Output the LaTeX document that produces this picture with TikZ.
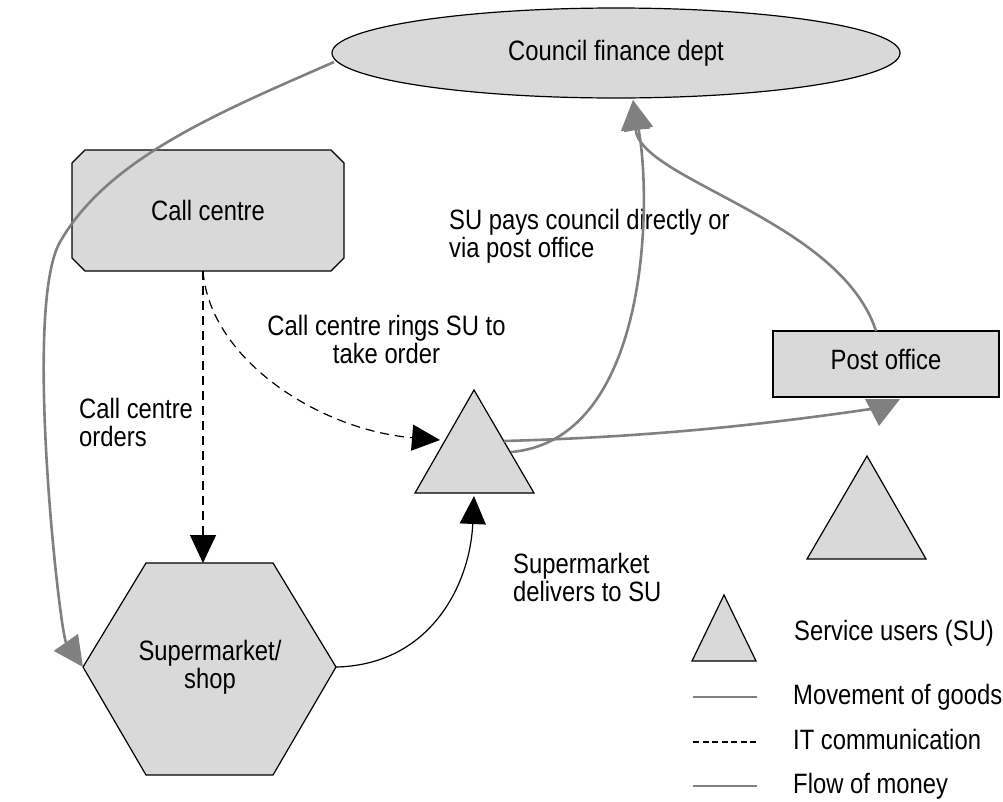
\documentclass[tikz,border=0pt]{standalone}
\usepackage{fontspec}
\setmainfont{Liberation Sans}[FakeStretch=0.85]
\usetikzlibrary{arrows.meta,shapes.geometric}
\definecolor{boxfill}{RGB}{217,217,217}
\definecolor{moneygrey}{RGB}{128,128,128}
\begin{document}
\begin{tikzpicture}[x=1pt,y=-1pt,
  every node/.style={font=\fontsize{28}{28}\selectfont, inner sep=0pt},
  shapebox/.style={draw=black, line width=1.2pt, fill=boxfill},
  money/.style={draw=moneygrey, line width=2.6pt},
  goods/.style={draw=moneygrey, line width=1.6pt},
  itcomm/.style={draw=black, line width=1.2pt, dash pattern=on 9pt off 6pt},
  itlegend/.style={draw=black, line width=1.2pt, dash pattern=on 6pt off 3.5pt},
  deliver/.style={draw=black, line width=1.2pt},
  greytip/.style={-{Triangle[length=30pt,width=29pt]}},
  blacktip/.style={-{Triangle[length=28pt,width=26pt]}},
  lblml/.style={align=left, anchor=west},
  lbl1/.style={anchor=west, text height=20pt, text depth=6pt}
]
\useasboundingbox (0,0) rectangle (1003,801);

% Council finance dept
\node[shapebox, ellipse, minimum width=568pt, minimum height=90pt] (cfd) at (616,53) {Council finance dept};

% Call centre (chamfered box)
\draw[shapebox] (85,150) -- (331,150) -- (344,163) -- (344,258) -- (331,271)
  -- (85,271) -- (72,258) -- (72,163) -- cycle;
\node (cc) at (208,210.5) {Call centre};

% Post office
\node[shapebox, rectangle, minimum width=226pt, minimum height=66pt, text depth=10pt] (po) at (886,364) {Post office};

% Supermarket hexagon
\draw[shapebox] (146,563) -- (273,563) -- (336,667) -- (273,775) -- (146,775) -- (83,667) -- cycle;
\node[align=center] (sm) at (210,667) {Supermarket/\\shop};

% Service user triangle
\draw[shapebox] (474,390) -- (534,493) -- (415,493) -- cycle;
\coordinate (su) at (474,459);
% Second service user triangle
\draw[shapebox] (867,456) -- (926,559) -- (807,559) -- cycle;
\coordinate (su2) at (867,525);

% connection points
\coordinate (cfdW) at (334,62);
\coordinate (cfdIn) at (633,100);
\coordinate (ccB) at (203,271);
\coordinate (smT) at (203,563);
\coordinate (smL) at (83,667);
\coordinate (smR) at (336,667);
\coordinate (suIn) at (440,440);
\coordinate (suBot) at (474,496);
\coordinate (suOut1) at (511,452);
\coordinate (suOut2) at (504,441);
\coordinate (poN) at (876,331);
\coordinate (poIn) at (871,409);

% labels
\node[lblml] (lpay) at (449,236.5) {SU pays council directly or\\via post office};
\node[align=center] (lring) at (386.5,339) {Call centre rings SU to\\take order};
\node[lblml] (lord) at (79,422) {Call centre\\orders};
\node[lblml] (ldel) at (513,577) {Supermarket\\delivers to SU};

% connectors
\draw[money, greytip] (cfdW) .. controls (220,112) and (108,158) .. (60,242)
  .. controls (22.8,307) and (60,634) .. (smL);
\draw[itcomm, blacktip] (ccB) -- (smT);
\draw[itcomm, blacktip] (ccB) .. controls (210,360) and (320,430) .. (suIn);
\draw[deliver, blacktip] (smR) .. controls (430,665) and (470,585) .. (suBot);
\draw[money, greytip] (suOut1) .. controls (650,440) and (652,200) .. (cfdIn);
\draw[money, greytip] (poN) .. controls (840,220) and (640,180) .. (cfdIn);
\draw[money] (suOut2) .. controls (650,437) and (760,425) .. (poIn);
\fill[moneygrey] (865,399) -- (900,399) -- (879,426) -- cycle;

% legend
\draw[shapebox] (724,595) -- (756,661) -- (692,661) -- cycle;
\node[lbl1] (lgsu) at (794,633) {Service users (SU)};
\coordinate (lga1) at (693,697); \coordinate (lga2) at (757,697);
\draw[goods] (lga1) -- (lga2);
\node[lbl1] (lggoods) at (793,697) {Movement of goods};
\coordinate (lgb1) at (693,742); \coordinate (lgb2) at (757,742);
\draw[itlegend] (lgb1) -- (lgb2);
\node[lbl1] (lgit) at (793,742) {IT communication};
\coordinate (lgc1) at (693,786); \coordinate (lgc2) at (757,786);
\draw[money] (lgc1) -- (lgc2);
\node[lbl1] (lgmoney) at (793,786) {Flow of money};
\end{tikzpicture}
\end{document}
